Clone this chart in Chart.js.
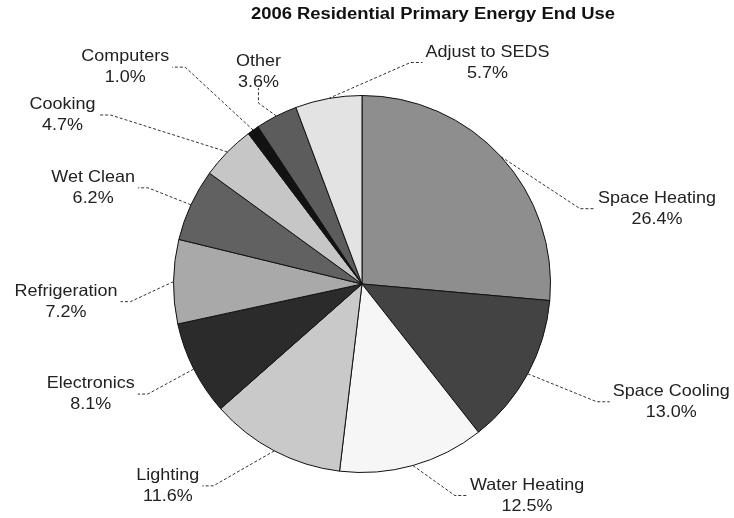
<!DOCTYPE html>
<html>
<head>
<meta charset="utf-8">
<script src="https://cdn.jsdelivr.net/npm/chart.js@4"></script>
<style>
  html, body { margin: 0; padding: 0; background: #fff; }
  #wrap { width: 734px; height: 518px; }
</style>
</head>
<body>
<div id="wrap"><canvas id="energyPie"></canvas></div>
<script>
// categories and shares (%), clockwise from 12 o'clock
const endUses = ['Space Heating', 'Space Cooling', 'Water Heating', 'Lighting', 'Electronics',
  'Refrigeration', 'Wet Clean', 'Cooking', 'Computers', 'Other', 'Adjust to SEDS'];
const shares = [26.4, 13.0, 12.5, 11.6, 8.1, 7.2, 6.2, 4.7, 1.0, 3.6, 5.7];
const sliceColors = ['#8e8e8e', '#434343', '#f6f6f6', '#c9c9c9', '#2b2b2b',
  '#a9a9a9', '#616161', '#c6c6c6', '#121212', '#5c5c5c', '#e3e3e3'];

// leader line layout: elbow offset from the slice's outer mid point, then a short tail
const leaders = [
  { dx: 79, dy: 52, dir: 'right', tail: 15 },
  { dx: 69, dy: 28, dir: 'right', tail: 13 },
  { dx: 42, dy: 30, dir: 'right', tail: 12 },
  { dx: -61, dy: 35, dir: 'left', tail: 11 },
  { dx: -46, dy: 25, dir: 'left', tail: 10 },
  { dx: -43, dy: 20, dir: 'left', tail: 10 },
  { dx: -43, dy: -17, dir: 'left', tail: 10 },
  { dx: -117, dy: -37, dir: 'left', tail: 12 },
  { dx: -68, dy: -63, dir: 'left', tail: 13 },
  { dx: -18, dy: -13, dir: 'up', tail: 15 },
  { dx: 82, dy: -36, dir: 'right', tail: 12 }
];

const labelFont = '16.5px "Liberation Sans", Arial, sans-serif';
const lineH = 21;
const stretch = 1.09; // the source text is a little wider than Arial

function wideText(ctx, s, x, y, sx) {
  ctx.save();
  ctx.translate(x, y);
  ctx.scale(sx, 1);
  ctx.fillText(s, 0, 0);
  ctx.restore();
}

const calloutPlugin = {
  id: 'callouts',
  afterDatasetsDraw(chart) {
    const ctx = chart.ctx;
    const meta = chart.getDatasetMeta(0);
    ctx.save();

    // title
    ctx.font = 'bold 16px "Liberation Sans", Arial, sans-serif';
    ctx.fillStyle = '#111';
    ctx.textAlign = 'center';
    ctx.textBaseline = 'middle';
    wideText(ctx, '2006 Residential Primary Energy End Use', 433, 15, 1.15);

    ctx.font = labelFont;
    meta.data.forEach((arc, i) => {
      const p = arc.getProps(['x', 'y', 'startAngle', 'endAngle', 'outerRadius'], true);
      const mid = (p.startAngle + p.endAngle) / 2;
      const ax = p.x + Math.cos(mid) * p.outerRadius;
      const ay = p.y + Math.sin(mid) * p.outerRadius;
      const L = leaders[i];
      const ex = ax + L.dx, ey = ay + L.dy;
      let tx = ex, ty = ey;
      if (L.dir === 'right') tx = ex + L.tail;
      else if (L.dir === 'left') tx = ex - L.tail;
      else ty = ey - L.tail;

      ctx.strokeStyle = '#333';
      ctx.lineWidth = 1;
      ctx.setLineDash([3, 2]);
      ctx.beginPath();
      ctx.moveTo(ax, ay);
      ctx.lineTo(ex, ey);
      ctx.lineTo(tx, ty);
      ctx.stroke();
      ctx.setLineDash([]);

      const lines = [endUses[i], shares[i].toFixed(1) + '%'];
      const w = stretch * Math.max(...lines.map(s => ctx.measureText(s).width));
      let cx, cy;
      if (L.dir === 'right') { cx = tx + 3 + w / 2; cy = ty; }
      else if (L.dir === 'left') { cx = tx - 3 - w / 2; cy = ty; }
      else { cx = tx; cy = ty - 6 - lineH / 2; }
      ctx.fillStyle = '#222';
      ctx.textAlign = 'center';
      ctx.textBaseline = 'middle';
      wideText(ctx, lines[0], cx, cy - lineH / 2, stretch);
      wideText(ctx, lines[1], cx, cy + lineH / 2, stretch);
    });
    ctx.restore();
  }
};

new Chart(document.getElementById('energyPie'), {
  type: 'pie',
  data: {
    labels: endUses,
    datasets: [{
      data: shares,
      backgroundColor: sliceColors,
      borderColor: '#111',
      borderWidth: 1
    }]
  },
  options: {
    responsive: true,
    maintainAspectRatio: false,
    animation: false,
    layout: { padding: { top: 95, bottom: 45, left: 0, right: 10 } },
    plugins: {
      legend: { display: false },
      tooltip: { enabled: false },
      title: { display: false }
    }
  },
  plugins: [calloutPlugin]
});
</script>
</body>
</html>
